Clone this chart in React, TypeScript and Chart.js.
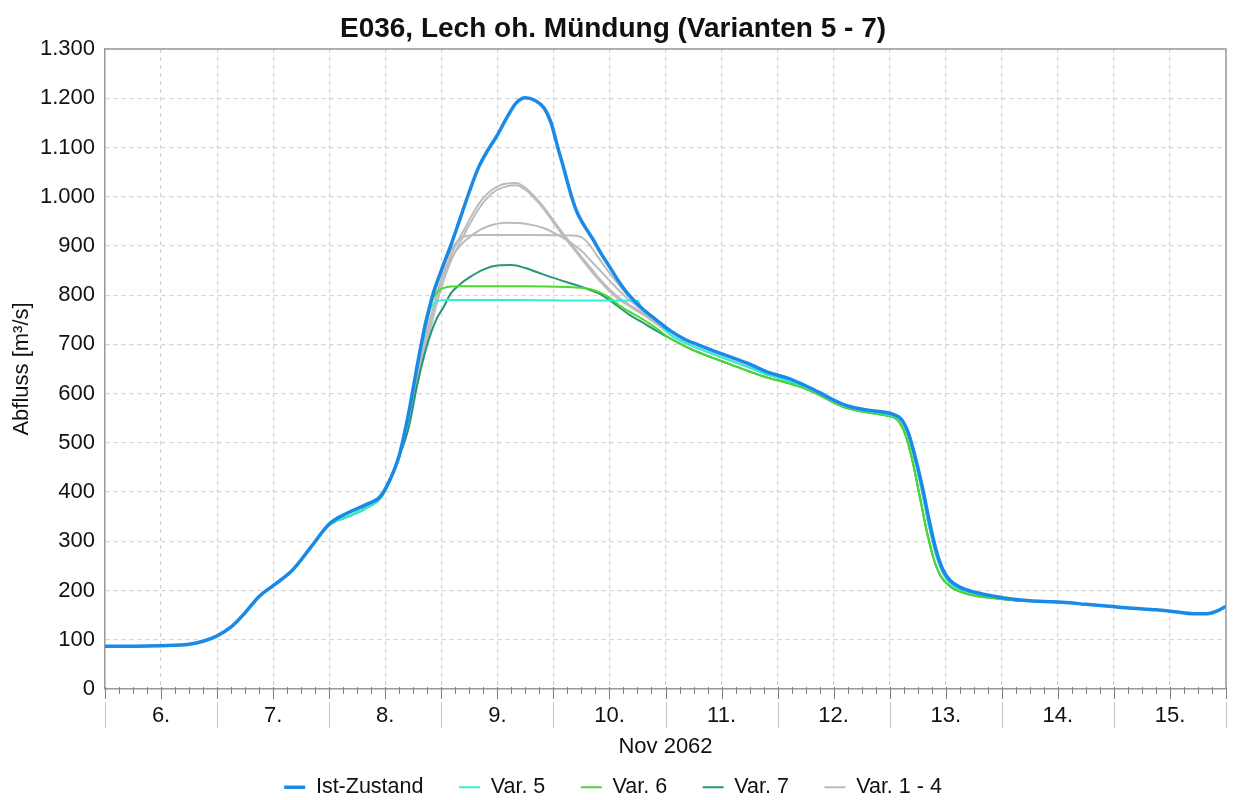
import React, { useEffect, useRef } from 'react';
import { Chart, registerables } from 'chart.js';

Chart.register(...registerables);

// ---- data (hours since 6 Nov 2062 00:00, discharge in m³/s) ----
const DAY_LABELS = ['6.', '7.', '8.', '9.', '10.', '11.', '12.', '13.', '14.', '15.'];

// shared start and end of all series
const BASE_H = [0, 6, 12, 18, 21, 24, 27, 30, 33, 36, 40, 44];
const BASE_V = [87, 87, 88, 91, 97, 108, 126, 155, 188, 210, 240, 287];
const END_H = [200, 205, 210, 215, 220, 225, 229, 233, 236, 238, 240];
const END_V = [178, 176, 172, 168, 164, 161, 157, 153, 153, 158, 168];

// Ist-Zustand
const IST_H = [48, 52, 56, 59, 61, 63, 65, 67.5, 70, 72, 74, 76, 78, 80, 82, 84, 86, 88, 90, 92, 94, 95.5, 97, 98, 99, 100, 101, 102, 103, 104.5, 106, 108, 110, 112, 115, 118, 121, 124, 127, 130, 134, 138, 142, 146, 150, 153, 156, 159, 163, 167, 169, 170.5, 172, 173.5, 175, 176.5, 178, 179.5, 181, 183, 186, 190, 195];
const IST_V = [335, 358, 375, 392, 425, 475, 560, 690, 795, 850, 900, 955, 1010, 1060, 1095, 1125, 1160, 1190, 1201, 1196, 1180, 1150, 1098, 1065, 1030, 997, 970, 951, 935, 913, 888, 858, 828, 802, 773, 750, 728, 711, 699, 688, 674, 660, 643, 632, 616, 602, 587, 575, 567, 562, 557, 548, 520, 470, 410, 340, 280, 240, 220, 207, 197, 189, 182];

// common rise of the variants
const RISE_H = [48, 52, 56, 59, 61, 63];
const RISE_V = [333, 350, 368, 388, 423, 472];

// common recession of Var. 6 / Var. 7
const GREEN_TAIL_H = [121, 124, 127, 130, 134, 138, 142, 146, 150, 153, 156, 159, 163, 167, 169, 170, 171.5, 173, 174.5, 176, 177.5, 179, 181, 183, 186, 190, 195];
const GREEN_TAIL_V = [712, 697, 684, 673, 659, 645, 632, 622, 610, 597, 582, 570, 562, 556, 551, 543, 513, 458, 388, 318, 262, 228, 208, 198, 190, 185, 180];

// common recession of Var. 1 - 4 / Var. 5
const GRAY_TAIL_H = [121, 124, 127, 130, 134, 138, 142, 146, 150, 153, 156, 159, 163, 167, 169, 170.5, 172, 173.5, 175, 176.5, 178, 179.5, 181, 183, 186, 190, 195];
const GRAY_TAIL_V = [720, 704, 692, 681, 667, 653, 638, 627, 613, 600, 585, 573, 565, 559, 554, 545, 515, 462, 398, 328, 270, 234, 214, 203, 195, 188, 181];

// Var. 5
const V5_H = [65, 67, 68.5, 70, 71, 73, 80, 90, 100, 110, 114, 115, 118];
const V5_V = [555, 665, 745, 778, 787, 790, 790, 790, 789, 789, 788, 772, 749];
// Var. 6
const V6_H = [65, 67, 68.5, 70, 71.5, 73, 76, 80, 90, 100, 104, 106, 108, 110, 112, 115, 118];
const V6_V = [555, 665, 745, 790, 810, 816, 818, 818, 818, 816, 812, 805, 795, 780, 768, 752, 733];
// Var. 7
const V7_H = [65, 67, 69, 71, 72.5, 74, 76, 78, 81, 84, 87, 90, 93, 97, 101, 104, 106, 108, 110, 112, 115, 118];
const V7_V = [530, 625, 700, 752, 776, 803, 822, 836, 852, 860, 861, 855, 845, 832, 820, 810, 802, 790, 776, 762, 745, 728];
// Var. 1 - 4
const G1_H = [65, 67.5, 70, 72, 74, 75.5, 77, 80, 90, 100, 102, 103.5, 105, 107, 109, 111, 113, 116, 119];
const G1_V = [558, 685, 785, 845, 890, 910, 919, 922, 922, 921, 918, 905, 885, 858, 833, 810, 790, 765, 742];
const G2_H = [65, 67.5, 70, 72, 74, 76, 79, 82, 86, 90, 94, 97, 100, 102, 104, 106, 108, 110, 112, 115, 118];
const G2_V = [550, 670, 765, 830, 872, 900, 925, 940, 947, 945, 936, 922, 905, 890, 870, 850, 830, 810, 792, 770, 748];
const G3_H = [65, 67.5, 70, 72, 74, 77, 80, 83, 86, 88, 90, 92, 94, 96, 98, 100, 102, 104, 106, 108, 110, 112, 115, 118];
const G3_V = [548, 655, 760, 830, 880, 935, 985, 1015, 1027, 1028, 1018, 1000, 978, 952, 926, 902, 878, 855, 832, 812, 795, 782, 765, 745];
const G4_H = [65, 67.5, 70, 72, 74, 77, 80, 83, 86, 88, 90, 92, 94, 96, 98, 100, 102, 104, 106, 108, 110, 112, 115, 118];
const G4_V = [543, 645, 745, 815, 868, 925, 975, 1008, 1021, 1023, 1014, 996, 974, 948, 922, 898, 874, 850, 828, 808, 792, 779, 762, 742];

const Y_MIN = 0;
const Y_MAX = 1300;
const Y_STEP = 100;
const X_MAX = 240;

function series(...parts: [number[], number[]][]) {
  const out: { x: number; y: number }[] = [];
  parts.forEach(([h, v]) => h.forEach((x, i) => out.push({ x, y: v[i] })));
  return out;
}

const FONT = '"Liberation Sans", Arial, Helvetica, sans-serif';

function fmtThousands(v: number) {
  if (v >= 1000) {
    const t = Math.floor(v / 1000);
    const r = String(v % 1000).padStart(3, '0');
    return `${t}.${r}`;
  }
  return String(v);
}

const framePlugin = {
  id: 'framePlugin',
  afterDraw(chart: any) {
    const { ctx, chartArea: a, scales } = chart;
    const xs = scales.x;
    ctx.save();
    // top and right border
    ctx.strokeStyle = '#9a9a9a';
    ctx.lineWidth = 1.5;
    ctx.beginPath();
    ctx.moveTo(a.left, a.top);
    ctx.lineTo(a.right, a.top);
    ctx.lineTo(a.right, a.bottom);
    ctx.stroke();
    // x-axis tick marks every 3 hours
    ctx.strokeStyle = '#808080';
    ctx.lineWidth = 1;
    for (let h = 0; h <= X_MAX; h += 3) {
      const x = Math.round(xs.getPixelForValue(h)) + 0.5;
      const len = h % 12 === 0 ? 10 : 5;
      ctx.beginPath();
      ctx.moveTo(x, a.bottom - 2);
      ctx.lineTo(x, a.bottom + len);
      ctx.stroke();
    }
    // day separators below the axis
    ctx.strokeStyle = '#c4c4c4';
    for (let h = 0; h <= X_MAX; h += 24) {
      const x = Math.round(xs.getPixelForValue(h)) + 0.5;
      ctx.beginPath();
      ctx.moveTo(x, a.bottom + 13);
      ctx.lineTo(x, a.bottom + 39);
      ctx.stroke();
    }
    ctx.restore();
  },
};

export default function App() {
  const ref = useRef<HTMLCanvasElement | null>(null);

  useEffect(() => {
    if (!ref.current) return;
    Chart.defaults.font.family = FONT;
    Chart.defaults.color = '#111';

    const thin = 2;
    const mk = (label: string, data: any[], color: string, width: number) => ({
      label,
      data,
      borderColor: color,
      backgroundColor: color,
      borderWidth: width,
      pointRadius: 0,
      pointHoverRadius: 0,
      pointStyle: 'line',
      cubicInterpolationMode: 'monotone' as const,
      fill: false,
    });

    const gray = '#bcbcbc';
    const chart = new Chart(ref.current, {
      type: 'line',
      data: {
        datasets: [
          mk('Ist-Zustand', series([BASE_H, BASE_V], [IST_H, IST_V], [END_H, END_V]), '#1a8ae8', 3.5),
          mk('Var. 5', series([BASE_H, BASE_V], [RISE_H, RISE_V], [V5_H, V5_V], [GRAY_TAIL_H, GRAY_TAIL_V], [END_H, END_V]), '#30f0d4', thin),
          mk('Var. 6', series([BASE_H, BASE_V], [RISE_H, RISE_V], [V6_H, V6_V], [GREEN_TAIL_H, GREEN_TAIL_V], [END_H, END_V]), '#4cd92c', thin),
          mk('Var. 7', series([BASE_H, BASE_V], [RISE_H, RISE_V], [V7_H, V7_V], [GREEN_TAIL_H, GREEN_TAIL_V], [END_H, END_V]), '#26987a', thin),
          mk('Var. 1 - 4', series([BASE_H, BASE_V], [RISE_H, RISE_V], [G1_H, G1_V], [GRAY_TAIL_H, GRAY_TAIL_V], [END_H, END_V]), gray, thin),
          mk('Var. 2', series([BASE_H, BASE_V], [RISE_H, RISE_V], [G2_H, G2_V], [GRAY_TAIL_H, GRAY_TAIL_V], [END_H, END_V]), gray, thin),
          mk('Var. 3', series([BASE_H, BASE_V], [RISE_H, RISE_V], [G3_H, G3_V], [GRAY_TAIL_H, GRAY_TAIL_V], [END_H, END_V]), gray, thin),
          mk('Var. 4', series([BASE_H, BASE_V], [RISE_H, RISE_V], [G4_H, G4_V], [GRAY_TAIL_H, GRAY_TAIL_V], [END_H, END_V]), gray, thin),
        ],
      },
      options: {
        responsive: false,
        animation: false,
        devicePixelRatio: 1,
        parsing: false as any,
        normalized: true,
        layout: { padding: { left: 0, right: 8, top: 0, bottom: -8 } },
        interaction: { mode: 'nearest', intersect: false },
        plugins: {
          tooltip: { enabled: false },
          title: {
            display: true,
            text: 'E036, Lech oh. Mündung (Varianten 5 - 7)',
            font: { size: 28, weight: 'bold', family: FONT },
            color: '#111',
            padding: { top: 12, bottom: 3.4 },
          },
          legend: {
            position: 'bottom',
            labels: {
              usePointStyle: true,
              pointStyleWidth: 21,
              padding: 35.5,
              font: { size: 21.5, family: FONT },
              color: '#111',
              filter: (item: any) => item.datasetIndex < 5,
            },
          },
        },
        scales: {
          x: {
            type: 'linear',
            min: 0,
            max: X_MAX,
            ticks: {
              stepSize: 12,
              autoSkip: false,
              maxTicksLimit: 100,
              maxRotation: 0,
              padding: 14,
              font: { size: 22, family: FONT },
              color: '#111',
              callback: (v: any) => {
                const n = Number(v);
                return n % 24 === 12 ? DAY_LABELS[(n - 12) / 24] : '';
              },
            },
            grid: { color: '#d2d2d2', lineWidth: 1.2, drawTicks: false },
            border: { color: '#9a9a9a', width: 1.5, dash: [4, 4] },
            title: {
              display: true,
              text: 'Nov 2062',
              font: { size: 22, family: FONT },
              color: '#111',
              padding: { top: 0, bottom: -19 },
            },
            afterFit: (s: any) => {
              s.height = 52;
              s.paddingLeft = 0;
              s.paddingRight = 0;
            },
          },
          y: {
            type: 'linear',
            min: Y_MIN,
            max: Y_MAX,
            ticks: {
              stepSize: Y_STEP,
              maxTicksLimit: 100,
              padding: 10,
              font: { size: 22, family: FONT },
              color: '#111',
              callback: (v: any) => fmtThousands(Number(v)),
            },
            grid: { color: '#d2d2d2', lineWidth: 1.2, drawTicks: false },
            border: { color: '#9a9a9a', width: 1.5, dash: [4, 4] },
            title: {
              display: true,
              text: 'Abfluss [m³/s]',
              font: { size: 22, family: FONT },
              color: '#111',
              padding: { top: 9, bottom: 0 },
            },
            afterFit: (s: any) => {
              s.width = 105;
            },
          },
        },
      } as any,
      plugins: [framePlugin],
    });
    return () => chart.destroy();
  }, []);

  return (
    <div style={{ position: 'absolute', left: 0, top: 0, width: 1234, height: 800, background: '#fff' }}>
      <canvas ref={ref} width={1234} height={800} style={{ display: 'block', width: 1234, height: 800 }} />
    </div>
  );
}
